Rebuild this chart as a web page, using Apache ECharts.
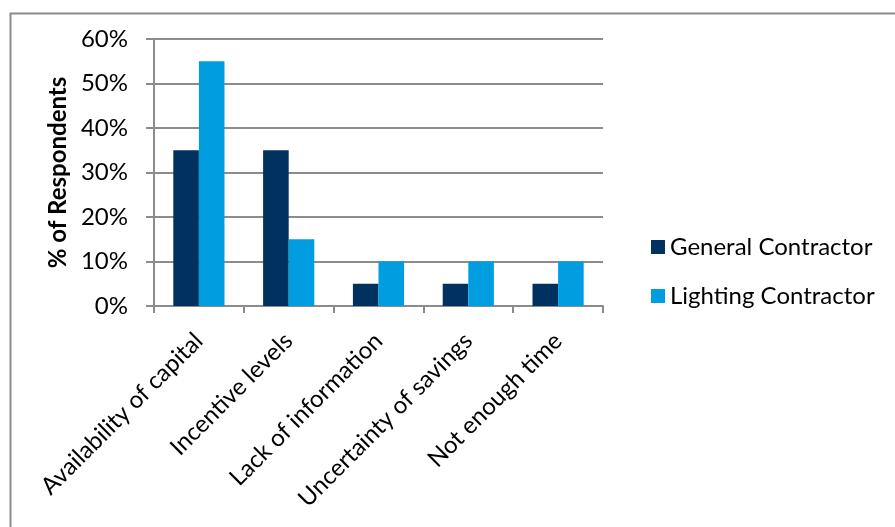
<!DOCTYPE html>
<html>
<head>
<meta charset="utf-8">
<script src="https://cdn.jsdelivr.net/npm/echarts@6/dist/echarts.min.js"></script>
<style>
  html, body { margin: 0; padding: 0; background: #fff; }
  #chart { width: 895px; height: 527px; }
</style>
</head>
<body>
<div id="chart"></div>
<script>
// Barriers reported, by contractor type (% of respondents)
const categories = [
  'Availability of capital',
  'Incentive levels',
  'Lack of information',
  'Uncertainty of savings',
  'Not enough time'
];
const seriesNames = ['General Contractor', 'Lighting Contractor'];
const generalContractor = [35, 35, 5, 5, 5];
const lightingContractor = [55, 15, 10, 10, 10];
const yTicks = { min: 0, max: 60, interval: 10 };

const FONT = 'Lato, "Open Sans", sans-serif';
const GRID_GRAY = '#8c8c8c';

const chart = echarts.init(document.getElementById('chart'));
chart.setOption({
  animation: false,
  textStyle: { fontFamily: FONT },
  color: ['#00315f', '#009ee0'],
  graphic: [{
    type: 'rect',
    left: 8, top: 11,
    shape: { width: 900, height: 530 },
    style: { fill: 'none', stroke: GRID_GRAY, lineWidth: 2 },
    silent: true
  }],
  grid: { left: 154, right: 292, top: 39, bottom: 221 },
  legend: {
    orient: 'vertical',
    left: 646, top: 230,
    itemWidth: 14, itemHeight: 14,
    itemGap: 25,
    icon: 'rect',
    textStyle: { fontSize: 24, color: '#000', fontFamily: FONT },
    data: seriesNames
  },
  xAxis: {
    type: 'category',
    data: categories,
    axisLine: { lineStyle: { color: GRID_GRAY, width: 2 } },
    axisTick: { show: true, length: 7, lineStyle: { color: GRID_GRAY, width: 2 } },
    axisLabel: {
      rotate: 45, interval: 0, margin: 31,
      fontSize: 24, color: '#000', fontFamily: FONT
    }
  },
  yAxis: {
    type: 'value',
    min: yTicks.min, max: yTicks.max, interval: yTicks.interval,
    name: '% of Respondents',
    nameLocation: 'middle',
    nameGap: 80,
    nameTextStyle: { fontSize: 24, fontWeight: 'bold', color: '#000', fontFamily: FONT },
    axisLine: { show: true, lineStyle: { color: GRID_GRAY, width: 2 } },
    axisTick: { show: true, length: 8, lineStyle: { color: GRID_GRAY, width: 2 } },
    axisLabel: { formatter: '{value}%', margin: 26, fontSize: 24, color: '#000', fontFamily: FONT },
    splitLine: { lineStyle: { color: GRID_GRAY, width: 2 } }
  },
  series: [
    {
      name: seriesNames[0], type: 'bar', data: generalContractor,
      barGap: '0%', barCategoryGap: '43%'
    },
    {
      name: seriesNames[1], type: 'bar', data: lightingContractor,
      barGap: '0%', barCategoryGap: '43%'
    }
  ]
});
</script>
</body>
</html>
